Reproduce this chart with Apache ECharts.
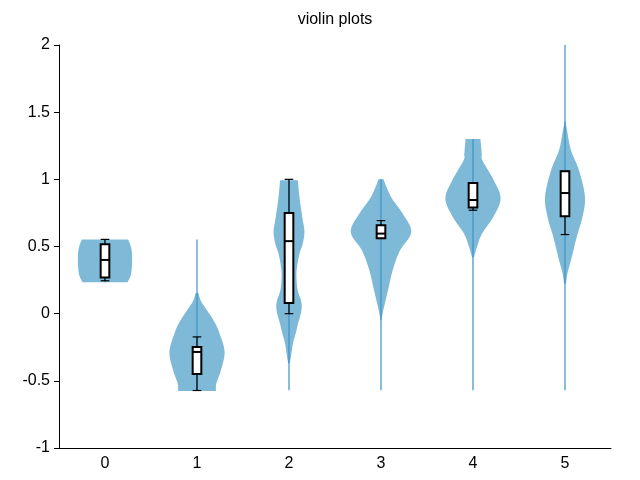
<!DOCTYPE html>
<html>
<head>
<meta charset="utf-8">
<script src="https://cdn.jsdelivr.net/npm/echarts@6/dist/echarts.min.js"></script>
<style>
  html, body { margin: 0; padding: 0; background: #fff; }
  #chart { width: 640px; height: 480px; }
</style>
</head>
<body>
<div id="chart"></div>
<script>
const categories = ['0', '1', '2', '3', '4', '5']

// violin outline: sample y values and half-width (in category units) at each
const violinValues = [
  [0.233, 0.28, 0.33, 0.40, 0.47, 0.52, 0.553],
  [-0.575, -0.52, -0.42, -0.285, -0.145, -0.05, 0.08, 0.124, 0.154],
  [-0.37, -0.295, -0.22, -0.146, -0.074, 0.0, 0.05, 0.1, 0.174, 0.273, 0.347, 0.447, 0.52, 0.608, 0.695, 0.82, 0.918, 0.993],
  [-0.05, 0.025, 0.174, 0.323, 0.47, 0.608, 0.745, 0.87, 1.0],
  [0.42, 0.496, 0.596, 0.72, 0.856, 0.993, 1.14, 1.19, 1.3],
  [0.224, 0.30, 0.42, 0.57, 0.72, 0.87, 1.067, 1.216, 1.365, 1.43]
]
const violinDensity = [
  [0.244, 0.277, 0.29, 0.295, 0.29, 0.271, 0.25],
  [0.206, 0.21, 0.26, 0.30, 0.244, 0.18, 0.054, 0.027, 0.016],
  [0.009, 0.027, 0.043, 0.073, 0.098, 0.128, 0.138, 0.13, 0.094, 0.081, 0.087, 0.114, 0.149, 0.168, 0.15, 0.123, 0.106, 0.098],
  [0.005, 0.025, 0.076, 0.127, 0.206, 0.329, 0.235, 0.108, 0.027],
  [0.011, 0.043, 0.098, 0.22, 0.30, 0.226, 0.103, 0.095, 0.081],
  [0.011, 0.027, 0.073, 0.127, 0.19, 0.217, 0.152, 0.065, 0.022, 0.005]
]
const lineMin = [0.233, -0.57, -0.57, -0.57, -0.57, -0.57]
const lineMax = [0.553, 0.553, 1.0, 1.0, 1.3, 2.0]

// box plot stats
const whiskerLow = [0.245, -0.572, 0.0, 0.56, 0.77, 0.589]
const boxQ1 = [0.27, -0.45, 0.08, 0.561, 0.79, 0.725]
const boxMedian = [0.40, -0.285, 0.54, 0.596, 0.846, 0.898]
const boxQ3 = [0.516, -0.248, 0.75, 0.658, 0.973, 1.06]
const whiskerHigh = [0.553, -0.173, 1.0, 0.693, 0.973, 1.06]

const fillColor = '#7fb9d8'
const lineColor = '#3a93c6'
const fontFamily = 'Liberation Sans, Arial, sans-serif'

const chart = echarts.init(document.getElementById('chart'))

// catmull-rom through the outline points so the edge is curved, ends stay sharp
function smoothSide(pts, steps) {
  const out = []
  for (let i = 0; i < pts.length - 1; i++) {
    const p0 = pts[Math.max(i - 1, 0)]
    const p1 = pts[i]
    const p2 = pts[i + 1]
    const p3 = pts[Math.min(i + 2, pts.length - 1)]
    for (let s = 0; s < steps; s++) {
      const t = s / steps
      const t2 = t * t
      const t3 = t2 * t
      const f = (a, b, c, d) =>
        0.5 * (2 * b + (-a + c) * t + (2 * a - 5 * b + 4 * c - d) * t2 + (-a + 3 * b - 3 * c + d) * t3)
      out.push([f(p0[0], p1[0], p2[0], p3[0]), f(p0[1], p1[1], p2[1], p3[1])])
    }
  }
  out.push(pts[pts.length - 1])
  return out
}

function renderViolin(params, api) {
  const idx = params.dataIndex
  const band = api.size([1, 0])[0]
  const vals = violinValues[idx]
  const dens = violinDensity[idx]
  const center = api.coord([idx, 0])[0]
  const side = []
  for (let k = 0; k < vals.length; k++) {
    const p = api.coord([idx, vals[k]])
    side.push([dens[k] * band, p[1]])
  }
  const smooth = smoothSide(side, 8)
  const right = smooth.map(p => [center + Math.max(p[0], 0), p[1]])
  const left = smooth.map(p => [center - Math.max(p[0], 0), p[1]]).reverse()
  const top = api.coord([idx, lineMax[idx]])
  const bottom = api.coord([idx, lineMin[idx]])
  return {
    type: 'group',
    children: [
      {
        type: 'polygon',
        shape: { points: right.concat(left) },
        style: { fill: fillColor, stroke: null }
      },
      {
        type: 'line',
        shape: { x1: top[0], y1: top[1], x2: bottom[0], y2: bottom[1] },
        style: { stroke: lineColor, lineWidth: 1.2 }
      }
    ]
  }
}

function renderBox(params, api) {
  const idx = params.dataIndex
  const band = api.size([1, 0])[0]
  const half = band * 0.047
  const lo = api.coord([idx, whiskerLow[idx]])
  const q1 = api.coord([idx, boxQ1[idx]])
  const med = api.coord([idx, boxMedian[idx]])
  const q3 = api.coord([idx, boxQ3[idx]])
  const hi = api.coord([idx, whiskerHigh[idx]])
  const x = lo[0]
  const thin = { stroke: '#000', lineWidth: 1.2 }
  return {
    type: 'group',
    children: [
      { type: 'line', shape: { x1: x, y1: lo[1], x2: x, y2: q1[1] }, style: thin },
      { type: 'line', shape: { x1: x, y1: q3[1], x2: x, y2: hi[1] }, style: thin },
      { type: 'line', shape: { x1: x - half, y1: lo[1], x2: x + half, y2: lo[1] }, style: thin },
      { type: 'line', shape: { x1: x - half, y1: hi[1], x2: x + half, y2: hi[1] }, style: thin },
      {
        type: 'rect',
        shape: { x: x - half, y: q3[1], width: half * 2, height: q1[1] - q3[1] },
        style: { fill: '#fff', stroke: '#000', lineWidth: 2 }
      },
      {
        type: 'line',
        shape: { x1: x - half, y1: med[1], x2: x + half, y2: med[1] },
        style: { stroke: '#000', lineWidth: 2 }
      }
    ]
  }
}

chart.setOption({
  animation: false,
  backgroundColor: '#fff',
  textStyle: { fontFamily: fontFamily },
  title: {
    text: 'violin plots',
    left: 335,
    textAlign: 'center',
    top: 12,
    padding: 0,
    textStyle: { fontSize: 16, fontWeight: 'normal', color: '#000', fontFamily: fontFamily }
  },
  grid: { left: 59, right: 29, top: 45, bottom: 32, containLabel: false },
  xAxis: {
    type: 'category',
    data: categories,
    boundaryGap: true,
    axisLine: { onZero: false, lineStyle: { color: '#000', width: 1 } },
    axisTick: { alignWithLabel: true, inside: true, length: 4, lineStyle: { color: '#000' } },
    axisLabel: { color: '#000', fontSize: 16, margin: 8, fontFamily: fontFamily },
    splitLine: { show: false }
  },
  yAxis: {
    type: 'value',
    min: -1,
    max: 2,
    interval: 0.5,
    axisLine: { show: true, lineStyle: { color: '#000', width: 1 } },
    axisTick: { show: true, length: 5, lineStyle: { color: '#000' } },
    axisLabel: { color: '#000', fontSize: 16, margin: 9, fontFamily: fontFamily },
    splitLine: { show: false }
  },
  series: [
    {
      type: 'custom',
      renderItem: renderViolin,
      data: categories.map((c, i) => [i]),
      z: 2
    },
    {
      type: 'custom',
      renderItem: renderBox,
      data: categories.map((c, i) => [i]),
      z: 3
    }
  ]
})
</script>
</body>
</html>
